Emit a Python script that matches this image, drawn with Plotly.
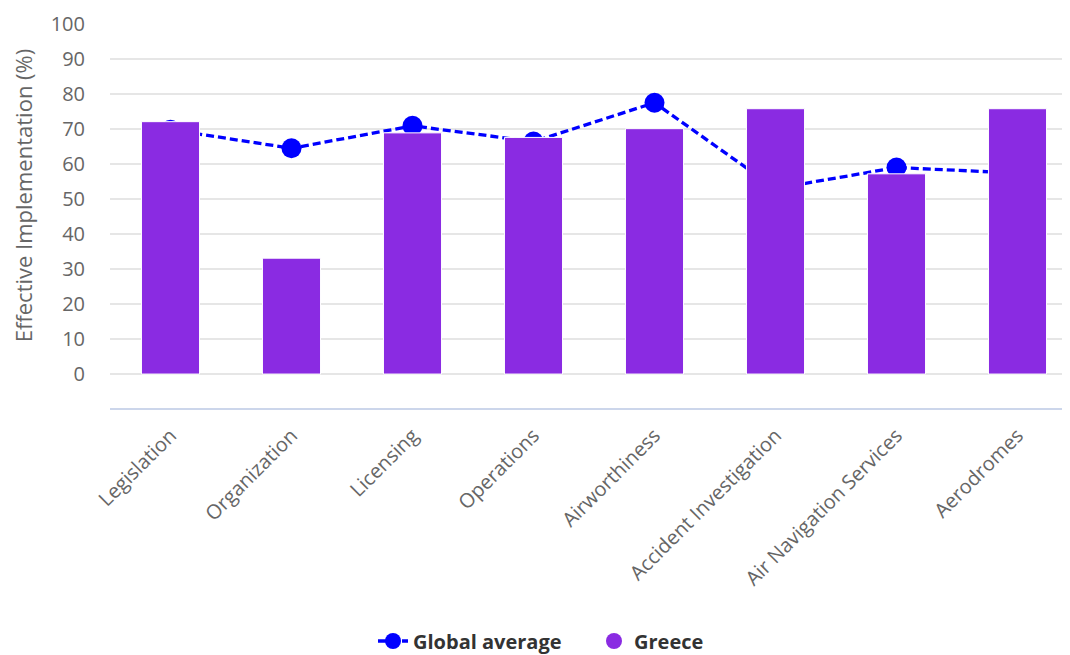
import plotly.graph_objects as go

categories = ["Legislation", "Organization", "Licensing", "Operations",
              "Airworthiness", "Accident Investigation", "Air Navigation Services", "Aerodromes"]
greece = [72.1, 33.1, 68.9, 67.6, 70.1, 75.8, 57.2, 75.8]
global_avg = [69.8, 64.5, 70.9, 66.4, 77.5, 53.0, 59.0, 57.4]
y_ticks = list(range(0, 101, 10))

FONT = "Open Sans"
GREY = "#666666"
xr = [-0.5, 7.5]
yr = [-9.7, 100]

fig = go.Figure()

# line drawn on base axes (behind bars)
fig.add_trace(go.Scatter(
    x=categories, y=global_avg, name="Global average", mode="lines+markers",
    line=dict(color="#0000ff", width=3.3, dash="8px,4px"),
    marker=dict(color="#0000ff", size=20, line=dict(width=0)),
    xaxis="x", yaxis="y",
))
# bars on overlay axes (drawn above line)
fig.add_trace(go.Bar(
    x=categories, y=greece, name="Greece", width=0.48,
    marker=dict(color="#8a2be2", line=dict(color="#ffffff", width=1)),
    xaxis="x2", yaxis="y2", showlegend=False,
))
# legend entry for Greece as a circle
fig.add_trace(go.Scatter(
    x=[None], y=[None], name="Greece", mode="markers",
    marker=dict(color="#8a2be2", size=20), xaxis="x", yaxis="y",
))

fig.update_layout(
    width=1070, height=655,
    margin=dict(l=102, r=0, t=16, b=255, autoexpand=False),
    paper_bgcolor="white", plot_bgcolor="white",
    font=dict(family=FONT, color=GREY, size=20),
    xaxis=dict(
        type="category", categoryorder="array", categoryarray=categories,
        range=xr, tickangle=-45, showgrid=False, showline=True, automargin=False,
        linecolor="#ccd6eb", linewidth=2, ticks="", ticklabelstandoff=6,
        tickfont=dict(size=20, color=GREY),
    ),
    yaxis=dict(
        range=yr, tickvals=y_ticks, showgrid=True, gridcolor="#e6e6e6",
        gridwidth=1.5, zeroline=False, showline=False, ticks="", automargin=False,
        ticklabelstandoff=24, tickfont=dict(size=20, color=GREY),
    ),
    xaxis2=dict(
        type="category", categoryorder="array", categoryarray=categories,
        range=xr, overlaying="x", visible=False,
    ),
    yaxis2=dict(range=yr, overlaying="y", visible=False),
    showlegend=True,
    legend=dict(
        orientation="h", x=(594 - 110) / 968, xanchor="center",
        yref="container", y=(663 - 641) / 655, yanchor="middle",
        font=dict(size=20, color="#333333", family=FONT, weight="bold"),
        entrywidth=176, traceorder="normal",
    ),
    annotations=[dict(
        text="Effective Implementation (%)", textangle=-90,
        xref="paper", yref="paper", x=-0.0905, y=0.555,
        xanchor="center", yanchor="middle", showarrow=False,
        font=dict(size=22, color=GREY, family=FONT),
    )],
)

fig.write_html("out.html")
